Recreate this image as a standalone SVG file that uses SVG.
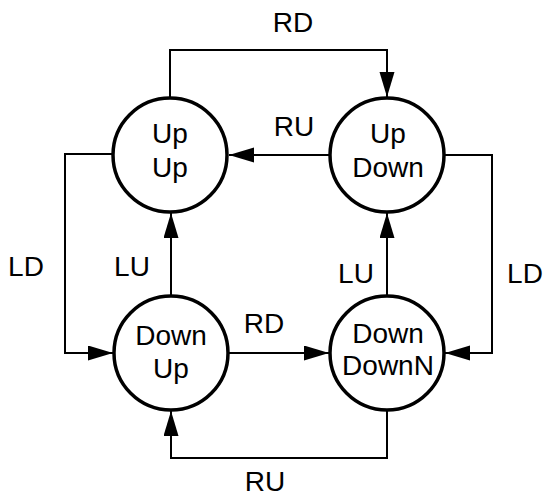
<svg xmlns="http://www.w3.org/2000/svg" width="544" height="494" viewBox="0 0 544 494">
  <style>
    .node { fill: #ffffff; stroke: #000000; stroke-width: 3.5; }
    .edge { fill: none; stroke: #000000; stroke-width: 2; }
    text { font-family: "Liberation Sans", Arial, sans-serif; font-size: 28px; fill: #000000; text-anchor: middle; }
  </style>
  <defs>
    <marker id="arrow" markerUnits="userSpaceOnUse" markerWidth="26" markerHeight="16" refX="25" refY="7.5" orient="auto">
      <path d="M0,0 L25,7.5 L0,15 z" fill="#000000"/>
    </marker>
  </defs>

  <g id="connectors">
    <!-- RD: Up/Up -> Up/Down over the top -->
    <path class="edge" d="M170,99 V50 H387 V97" marker-end="url(#arrow)"/>
    <text x="293" y="32">RD</text>
    <!-- RU: Up/Down -> Up/Up -->
    <path class="edge" d="M330,155 H229" marker-end="url(#arrow)"/>
    <text x="294" y="136">RU</text>
    <!-- LD: Up/Up -> Down/Up on the left -->
    <path class="edge" d="M113,154 H65 V353 H113" marker-end="url(#arrow)"/>
    <text x="26" y="276">LD</text>
    <!-- LU: Down/Up -> Up/Up -->
    <path class="edge" d="M171,296 V213" marker-end="url(#arrow)"/>
    <text x="132" y="276">LU</text>
    <!-- LU: Down/DownN -> Up/Down -->
    <path class="edge" d="M387,296 V213" marker-end="url(#arrow)"/>
    <text x="356" y="283">LU</text>
    <!-- LD: Up/Down -> Down/DownN on the right -->
    <path class="edge" d="M445,155 H492 V353 H445" marker-end="url(#arrow)"/>
    <text x="525" y="283">LD</text>
    <!-- RD: Down/Up -> Down/DownN -->
    <path class="edge" d="M229,353 H329" marker-end="url(#arrow)"/>
    <text x="264" y="333">RD</text>
    <!-- RU: Down/DownN -> Down/Up under the bottom -->
    <path class="edge" d="M387,411 V458 H171 V411" marker-end="url(#arrow)"/>
    <text x="265" y="491">RU</text>
  </g>

  <g id="up-up">
    <circle class="node" cx="170" cy="155" r="57"/>
    <text x="170" y="143">Up</text>
    <text x="170" y="177">Up</text>
  </g>
  <g id="up-down">
    <circle class="node" cx="387" cy="155" r="57"/>
    <text x="388" y="143">Up</text>
    <text x="388" y="177">Down</text>
  </g>
  <g id="down-up">
    <circle class="node" cx="171" cy="353" r="57"/>
    <text x="171" y="345">Down</text>
    <text x="171" y="378">Up</text>
  </g>
  <g id="down-downn">
    <circle class="node" cx="387" cy="353" r="57"/>
    <text x="388" y="343">Down</text>
    <text x="388" y="375">DownN</text>
  </g>
</svg>
